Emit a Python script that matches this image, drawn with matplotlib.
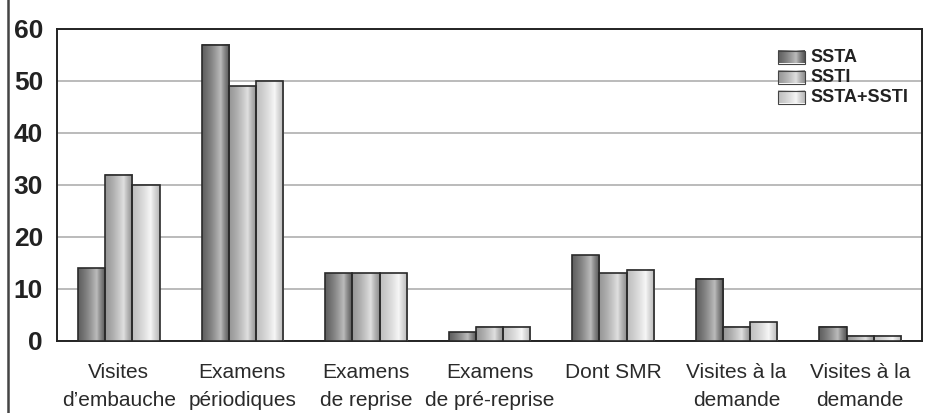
import numpy as np
import matplotlib
matplotlib.use("Agg")
import matplotlib.pyplot as plt
from matplotlib.patches import Rectangle
from matplotlib import font_manager

names = {f.name for f in font_manager.fontManager.ttflist}
FONT = "Liberation Sans Narrow" if "Liberation Sans Narrow" in names else "Liberation Sans"
plt.rcParams["font.family"] = [FONT, "DejaVu Sans"]

categories = ["Visites\nd\u2019embauche", "Examens\np\u00e9riodiques", "Examens\nde reprise",
              "Examens\nde pr\u00e9-reprise", "Dont SMR", "Visites \u00e0 la\ndemande",
              "Visites \u00e0 la\ndemande"]
series_names = ["SSTA", "SSTI", "SSTA+SSTI"]
ssta = [14, 57, 13, 1.7, 16.5, 12, 2.7]
ssti = [32, 49, 13, 2.7, 13, 2.7, 1]
ssta_ssti = [30, 50, 13, 2.7, 13.7, 3.6, 1]
yticks = [0, 10, 20, 30, 40, 50, 60]

# cylinder-style shading: (edge, highlight) grey levels per series
shades = [(0.26, 0.74), (0.50, 0.88), (0.68, 0.97)]


def gradient(lo, hi, n=64):
    t = np.linspace(0, 1, n)
    # peak brightness at ~70% of the width, dark again at the right edge
    peak = 0.68
    left = np.clip(t / peak, 0, 1)
    right = np.clip((t - peak) / (1 - peak), 0, 1)
    prof = np.where(t < peak, 0.25 + 0.75 * left ** 1.3, 1 - 0.85 * right ** 0.8)
    g = lo + (hi - lo) * prof
    return np.stack([g, g, g], axis=-1)[None, :, :]


fig = plt.figure(figsize=(9.38, 4.13), dpi=100)
ax = fig.add_axes([57 / 938, 1 - 341 / 413, (922 - 57) / 938, (341 - 29) / 413])

x = np.arange(len(categories))
w = 0.22
data = [ssta, ssti, ssta_ssti]
for si, vals in enumerate(data):
    lo, hi = shades[si]
    img = gradient(lo, hi)
    for xi, v in zip(x, vals):
        left = xi + (si - 1) * w - w / 2
        ax.imshow(img, extent=[left, left + w, 0, v], aspect="auto",
                  interpolation="bilinear", zorder=3)
        ax.add_patch(Rectangle((left, 0), w, v, fill=False, edgecolor="#2a2a2a",
                               linewidth=1.2, zorder=4))

ax.set_xlim(-0.5, len(categories) - 0.5)
ax.set_ylim(0, 60)
ax.set_yticks(yticks)
ax.set_yticklabels([str(t) for t in yticks], fontsize=19, fontweight="bold", color="#222222")
ax.set_xticks(x)
ax.set_xticklabels(categories, fontsize=15, color="#2a2a2a", linespacing=1.6)
ax.tick_params(axis="both", length=0)
ax.tick_params(axis="y", pad=10)
ax.tick_params(axis="x", pad=16)
ax.yaxis.grid(True, color="#a8a8a8", linewidth=1.1, zorder=0)
ax.set_axisbelow(True)
for s in ax.spines.values():
    s.set_color("#222222")
    s.set_linewidth(1.4)

# legend drawn in axes coordinates
leg_x0, leg_w, leg_h = (778 - 57) / 865, 27 / 865, 13 / 312
for si, name in enumerate(series_names):
    yc = 1 - (57 + 20 * si - 29) / 312
    lo, hi = shades[si]
    ax.imshow(gradient(lo, hi), extent=[leg_x0, leg_x0 + leg_w, yc - leg_h / 2, yc + leg_h / 2],
              transform=ax.transAxes, aspect="auto", interpolation="bilinear", zorder=6)
    ax.add_patch(Rectangle((leg_x0, yc - leg_h / 2), leg_w, leg_h, transform=ax.transAxes,
                           fill=False, edgecolor="#444444", linewidth=0.8, zorder=7))
    ax.text(leg_x0 + leg_w + 5 / 865, yc, name, transform=ax.transAxes, fontsize=13,
            fontweight="bold", va="center", ha="left", color="#222222", zorder=7)
ax.set_xlim(-0.5, len(categories) - 0.5)
ax.set_ylim(0, 60)

# outer frame of the figure
fig.add_artist(Rectangle((8 / 938, -0.2), 1.2, 1.2 + (1 - 12 / 413), transform=fig.transFigure,
                         fill=False, edgecolor="#444444", linewidth=1.8))

fig.savefig("out.png", dpi=100)
